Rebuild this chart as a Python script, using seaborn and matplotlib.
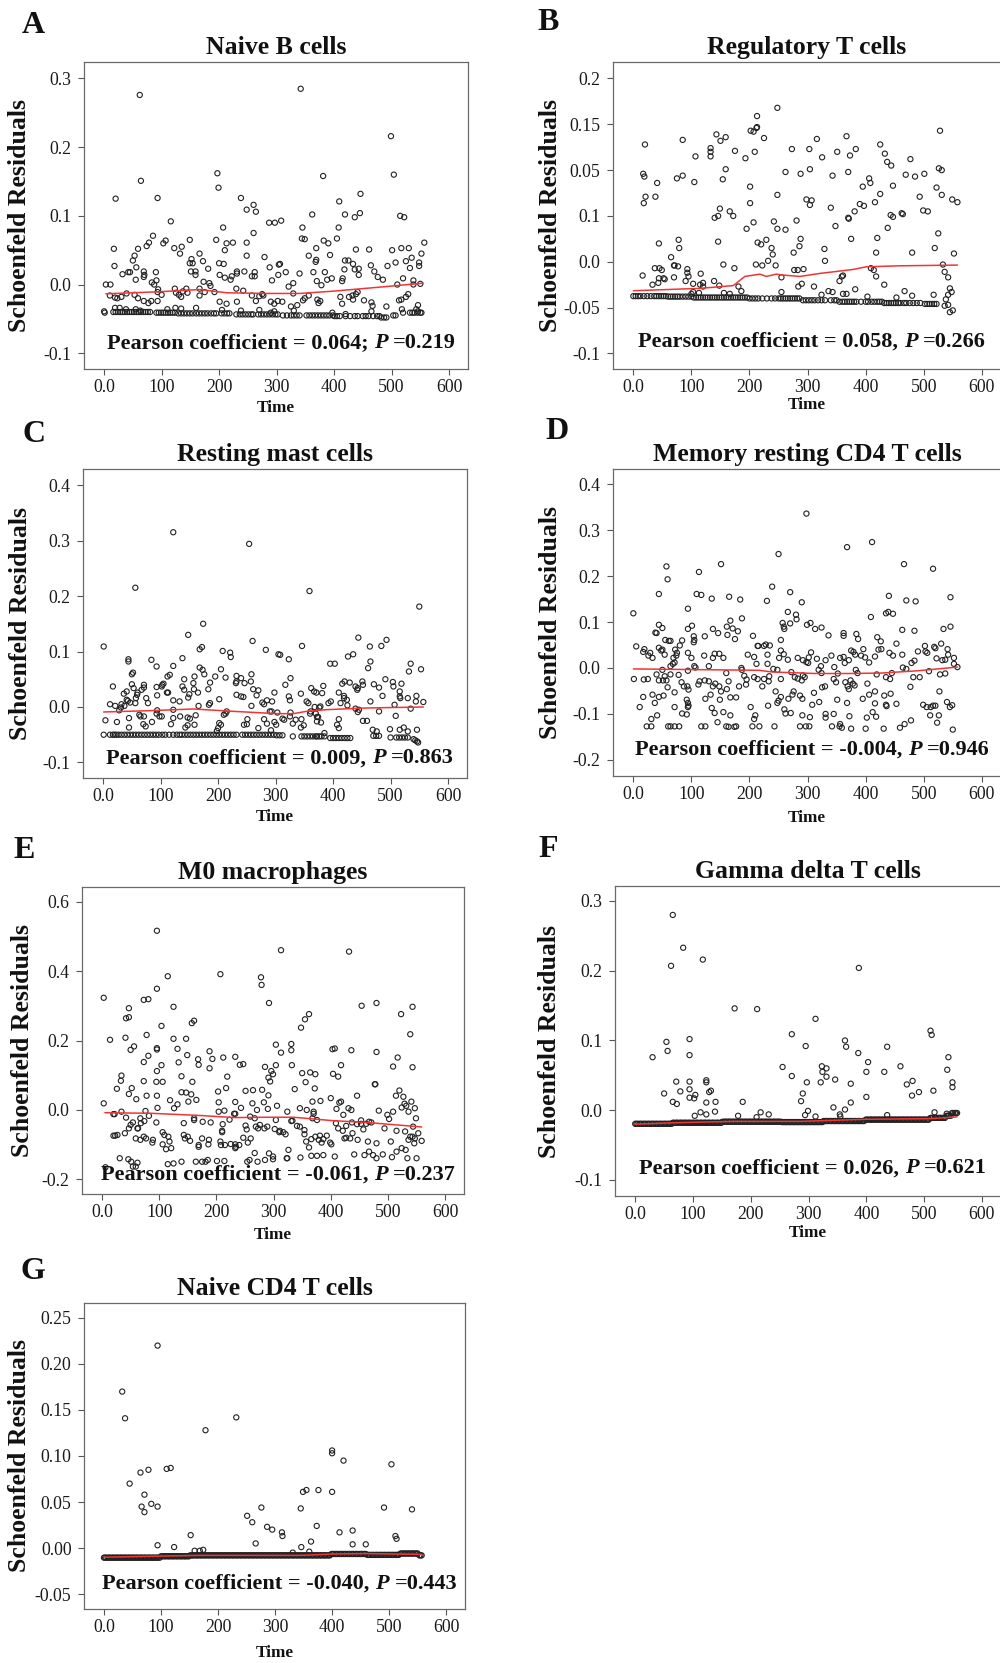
import matplotlib
matplotlib.use('Agg')
import matplotlib.pyplot as plt
from matplotlib.transforms import IdentityTransform
import seaborn as sns
import pandas as pd

# ---------------- data ----------------
panel_letters = ["A", "B", "C", "D", "E", "F", "G"]
panel_titles = ["Naive B cells", "Regulatory T cells", "Resting mast cells",
                "Memory resting CD4 T cells", "M0 macrophages",
                "Gamma delta T cells", "Naive CD4 T cells"]
pearson_coef = ["0.064;", "0.058,", "0.009,", "-0.004,", "-0.061,", "0.026,", "-0.040,"]
pearson_p = ["0.219", "0.266", "0.863", "0.946", "0.237", "0.621", "0.443"]

x_ticks = [0, 100, 200, 300, 400, 500, 600]
x_ticklabels = ["0.0", "100", "200", "300", "400", "500", "600"]

A_yticks = [-0.1, 0.0, 0.1, 0.2, 0.3]
A_yticklabels = ["-0.1", "0.0", "0.1", "0.2", "0.3"]
B_yticks = [-0.1, -0.05, 0.0, 0.05, 0.1, 0.15, 0.2]
B_yticklabels = ["-0.1", "-0.05", "0.0", "0.1", "0.05", "0.15", "0.2"]
C_yticks = [-0.1, 0.0, 0.1, 0.2, 0.3, 0.4]
C_yticklabels = ["-0.1", "0.0", "0.1", "0.2", "0.3", "0.4"]
D_yticks = [-0.2, -0.1, 0.0, 0.1, 0.2, 0.3, 0.4]
D_yticklabels = ["-0.2", "-0.1", "0.0", "0.1", "0.2", "0.3", "0.4"]
E_yticks = [-0.2, 0.0, 0.2, 0.4, 0.6]
E_yticklabels = ["-0.2", "0.0", "0.2", "0.4", "0.6"]
F_yticks = [-0.1, 0.0, 0.1, 0.2, 0.3]
F_yticklabels = ["-0.1", "0.0", "0.1", "0.2", "0.3"]
G_yticks = [-0.05, 0.0, 0.05, 0.10, 0.15, 0.20, 0.25]
G_yticklabels = ["-0.05", "0.00", "0.05", "0.10", "0.15", "0.20", "0.25"]

# (time, residual) points
A_points = [(62,0.276),(64,0.151),(20,0.125),(93,0.126),(197,0.162),(199,0.141),(342,0.285),(381,0.158),(499,0.216),(504,0.160),
(238,0.126),(260,0.116),(264,0.106),(248,0.109),(409,0.121),(446,0.132),(362,0.102),(419,0.102),(436,0.098),(445,0.104),(515,0.100),
(522,0.098),(116,0.092),(287,0.090),(297,0.090),(308,0.093),(207,0.083),(345,0.083),(408,0.083),(85,0.071),(260,0.075),(78,0.061),
(74,0.056),(17,0.052),(59,0.052),(103,0.060),(107,0.064),(149,0.065),(122,0.053),(135,0.055),(132,0.045),(195,0.065),(213,0.060),
(224,0.061),(210,0.050),(248,0.061),(248,0.042),(344,0.067),(349,0.066),(369,0.053),(382,0.064),(390,0.060),(405,0.067),(438,0.051),
(461,0.051),(501,0.050),(517,0.053),(530,0.053),(557,0.061),(552,0.045),(279,0.040),(356,0.042),(393,0.043),(50,0.035),(53,0.042),
(18,0.027),(32,0.015),(42,0.018),(45,0.018),(56,0.025),(55,0.007),(69,0.019),(70,0.014),(69,0.011),(90,0.018),(91,0.006),(83,0.003),
(87,0.0),(149,0.031),(152,0.037),(154,0.031),(151,0.019),(159,0.019),(159,0.014),(166,0.045),(172,0.034),(181,0.023),(173,0.004),
(183,0.002),(185,-0.002),(201,0.014),(200,0.031),(208,0.030),(210,0.010),(220,0.007),(222,0.012),(231,0.019),(231,0.016),(244,0.019),
(257,0.012),(262,0.018),(262,0.012),(288,0.025),(304,0.029),(306,0.030),(303,0.014),(292,0.006),(316,0.018),(329,0.002),(340,0.016),
(364,0.018),(368,0.033),(369,0.036),(370,0.005),(378,-0.001),(384,0.018),(388,0.007),(396,0.009),(419,0.035),(425,0.035),(433,0.030),
(418,0.022),(415,0.009),(414,0.005),(436,0.022),(443,0.023),(443,0.014),(464,0.028),(470,0.019),(476,0.011),(485,0.007),(493,0.027),
(507,0.032),(510,0.0),(520,0.009),(525,0.034),(535,0.039),(532,0.024),(548,0.027),(548,0.032),(538,0.006),(550,0.001),(538,0.0),
(3,0.0),(11,0.0),(10,-0.016),(19,-0.019),(23,-0.020),(39,-0.013),(30,-0.018),(53,-0.015),(59,-0.020),(69,-0.024),(77,-0.027),
(82,-0.024),(93,-0.011),(94,-0.007),(93,-0.024),(100,-0.015),(123,-0.006),(125,-0.012),(130,-0.015),(134,-0.018),(137,-0.010),
(143,-0.006),(145,-0.012),(166,-0.006),(166,-0.016),(175,-0.011),(192,-0.011),(201,-0.025),(213,-0.028),(230,-0.006),(242,-0.009),
(231,-0.025),(257,-0.016),(264,-0.024),(275,-0.014),(277,-0.016),(270,-0.017),(290,-0.025),(296,-0.028),(302,-0.024),(310,-0.025),
(321,-0.003),(329,-0.013),(336,-0.030),(325,-0.032),(346,-0.023),(349,-0.020),(356,-0.016),(371,-0.022),(373,-0.027),(376,-0.024),
(411,-0.018),(414,-0.028),(426,-0.018),(432,-0.016),(433,-0.022),(438,-0.014),(441,-0.011),(452,-0.023),(465,-0.026),(467,-0.031),
(491,-0.032),(513,-0.023),(517,-0.022),(525,-0.018),(529,-0.014),(518,-0.036),(546,-0.030),(543,-0.036),
(19,-0.034),(27,-0.034),(38,-0.036),(55,-0.036),(63,-0.038),(110,-0.036),(124,-0.034),(134,-0.035),(160,-0.034),(205,-0.037),
(238,-0.038),(270,-0.037),(290,-0.041),(296,-0.039),(330,-0.038),(397,-0.041),(420,-0.043),(465,-0.039),(520,-0.041),(546,-0.039),
(0,-0.039),(1,-0.041)]
A_band_levels = [-0.040, -0.041, -0.042, -0.0435, -0.045, -0.046, -0.048, -0.041]
A_band_times = [[16,20,24,28,32,36,40,44,48,52,56,60,64,68,72,76,80],
                [91,95,99,103,107,111,115,119,123],
                [129,134,139,144,149,154,160,165,170,175,180,186,191,195,204,209,214,218],
                [230,236,241,246,251,256,259,268,273,278,283,288,293,298,302],
                [311,318,325,330,335,340,352,357,362,367,372,377,382,387,392,398,503,507],
                [401,405,410,420,428,436,441,450,455,460,468,475,479],
                [482,487,491],
                [532,536,540,545,550,552]]
A_fit_time = [3, 94, 166, 213, 282, 340, 398, 485, 555]
A_fit_resid = [-0.0135, -0.0106, -0.0073, -0.012, -0.013, -0.013, -0.0097, -0.0034, 0.002]

B_points = [(248,0.168),(213,0.159),(213,0.147),(212,0.146),(202,0.143),(207,0.142),(528,0.143),(143,0.139),(159,0.136),(150,0.132),
(225,0.135),(367,0.137),(316,0.134),(85,0.133),(20,0.128),(425,0.128),(133,0.124),(133,0.120),(133,0.115),(273,0.123),(303,0.123),
(175,0.121),(209,0.120),(383,0.123),(351,0.120),(433,0.118),(373,0.116),(107,0.115),(193,0.113),(325,0.114),(477,0.112),(437,0.109),
(444,0.105),(159,0.101),(262,0.098),(288,0.096),(304,0.101),(370,0.098),(469,0.095),(485,0.093),(501,0.096),(526,0.102),(531,0.100),
(17,0.096),(19,0.093),(85,0.094),(75,0.091),(41,0.086),(105,0.087),(154,0.090),(343,0.094),(406,0.091),(408,0.086),(201,0.082),
(395,0.082),(447,0.083),(522,0.081),(248,0.073),(425,0.074),(531,0.073),(21,0.071),(38,0.071),(18,0.064),(201,0.064),(298,0.068),
(307,0.067),(304,0.062),(493,0.071),(549,0.068),(558,0.065),(416,0.065),(390,0.063),(397,0.061),(149,0.058),(146,0.050),(140,0.048),
(166,0.055),(172,0.050),(340,0.059),(381,0.055),(499,0.056),(507,0.055),(443,0.051),(447,0.049),(462,0.053),(464,0.052),(281,0.045),
(207,0.043),(242,0.044),(370,0.048),(371,0.047),(348,0.039),(195,0.036),(248,0.036),(262,0.035),(438,0.037),(288,0.025),(286,0.017),
(229,0.024),(214,0.021),(220,0.019),(146,0.022),(375,0.025),(420,0.026),(525,0.031),(78,0.024),(79,0.015),(44,0.020),(238,0.015),
(240,0.008),(329,0.014),(519,0.015),(276,0.010),(418,0.010),(480,0.010),(552,0.009),(65,0.005),(330,0.001),(232,0.001),(211,-0.003),
(222,-0.004),(245,-0.004),(155,-0.003),(533,-0.003),(70,-0.004),(71,-0.004),(77,-0.005),(37,-0.007),(45,-0.007),(49,-0.009),
(93,-0.008),(93,-0.012),(95,-0.016),(174,-0.007),(277,-0.009),(283,-0.009),(293,-0.008),(409,-0.007),(414,-0.009),(418,-0.016),
(536,-0.011),(16,-0.015),(70,-0.017),(52,-0.018),(44,-0.018),(43,-0.023),(54,-0.019),(116,-0.013),(139,-0.021),(255,-0.017),
(361,-0.015),(359,-0.016),(355,-0.021),(542,-0.017),(33,-0.025),(90,-0.021),(103,-0.024),(115,-0.025),(120,-0.027),(120,-0.023),
(148,-0.026),(181,-0.027),(186,-0.032),(284,-0.027),(290,-0.024),(311,-0.027),(432,-0.025),(545,-0.029),(548,-0.033),(542,-0.036),
(538,-0.041),(542,-0.047),(100,-0.035),(103,-0.033),(113,-0.034),(156,-0.034),(166,-0.035),(255,-0.033),(324,-0.036),(336,-0.032),
(343,-0.033),(361,-0.035),(367,-0.035),(382,-0.030),(403,-0.038),(453,-0.039),(467,-0.032),(480,-0.037),(517,-0.036),(536,-0.048),
(545,-0.055),(550,-0.053)]
B_band_levels = [-0.0375, -0.038, -0.039, -0.040, -0.042, -0.0436, -0.045, -0.046]
B_band_times = [[0,4,8,12,18,24,30,36,40,44,48,52,56],
                [60,64,68,72,76,80,85,90,95,100],
                [104,108,112,116,120,124,128,132,136,140,144,148,152,156,160,164,168,172,176,180,184,188,192,196],
                [200,205,210,215,222,230,238,244,250,254,258,262,266,270,274,278,282,286],
                [292,297,302,307,312,318,324,330,340,346,350],
                [355,360,364,368,372,376,380,384,392,400,404,410,415,420,424,428],
                [432,436,440,444,448,452,456,460,466,470,476,482,488,494],
                [502,506,510,514,518,522]]
B_fit_time = [0, 115, 172, 192, 218, 229, 246, 258, 287, 321, 344, 378, 401, 458, 558]
B_fit_resid = [-0.0316, -0.029, -0.026, -0.016, -0.0135, -0.016, -0.0135, -0.0145, -0.016, -0.0127, -0.011, -0.0084, -0.0055, -0.0044, -0.0036]

C_points = [(122,0.315),(254,0.294),(56,0.215),(359,0.209),(550,0.181),(174,0.150),(148,0.130),(444,0.125),(493,0.121),(260,0.119),
(1,0.109),(346,0.110),(464,0.109),(484,0.110),(172,0.108),(168,0.104),(283,0.103),(208,0.101),(221,0.098),(222,0.090),(305,0.095),
(308,0.094),(435,0.095),(426,0.091),(323,0.086),(138,0.088),(44,0.086),(44,0.082),(84,0.085),(465,0.082),(535,0.078),(395,0.078),
(403,0.078),(122,0.074),(93,0.073),(461,0.070),(168,0.071),(173,0.067),(176,0.059),(205,0.068),(553,0.068),(532,0.064),(52,0.062),
(50,0.059),(258,0.059),(116,0.058),(112,0.055),(159,0.055),(213,0.053),(326,0.052),(141,0.050),(232,0.056),(232,0.046),(231,0.043),
(240,0.052),(195,0.055),(491,0.050),(451,0.046),(420,0.046),(429,0.044),(257,0.046),(186,0.044),(157,0.043),(246,0.043),(504,0.045),
(505,0.037),(519,0.042),(416,0.042),(105,0.042),(103,0.040),(102,0.037),(50,0.041),(71,0.040),(71,0.035),(67,0.031),(17,0.037),
(93,0.036),(138,0.037),(141,0.031),(53,0.034),(261,0.032),(270,0.030),(183,0.032),(158,0.032),(439,0.037),(443,0.034),(442,0.031),
(471,0.041),(480,0.035),(383,0.038),(362,0.034),(367,0.028),(371,0.026),(381,0.025),(516,0.028),(452,0.040),(317,0.040),(298,0.026),
(41,0.028),(36,0.024),(60,0.026),(59,0.022),(113,0.026),(111,0.026),(150,0.023),(165,0.026),(75,0.016),(94,0.021),(148,0.017),
(232,0.022),(240,0.019),(244,0.018),(267,0.021),(344,0.024),(323,0.019),(410,0.026),(419,0.020),(419,0.016),(486,0.020),(516,0.019),
(517,0.016),(530,0.016),(545,0.020),(41,0.013),(43,0.011),(47,0.008),(57,0.016),(56,0.007),(78,0.007),(122,0.012),(133,0.010),
(186,0.007),(184,0.004),(202,0.014),(277,0.008),(280,0.005),(285,0.012),(294,0.010),(325,0.012),(354,0.010),(357,0.007),(392,0.007),
(396,0.010),(413,0.007),(424,0.013),(465,0.010),(507,0.004),(544,0.010),(557,0.009),(535,-0.003),(258,0.002),(12,0.005),(21,0.002),
(28,-0.006),(31,-0.001),(37,0.002),(32,0.005),(94,-0.006),(93,-0.012),(122,-0.005),(98,-0.017),(102,-0.017),(166,0.002),(215,-0.008),
(210,-0.014),(213,-0.012),(290,-0.008),(293,-0.008),(303,-0.010),(312,-0.021),(326,-0.010),(325,-0.017),(368,0.0),(376,-0.001),
(378,0.001),(361,-0.008),(360,-0.012),(370,-0.012),(372,-0.018),(425,0.003),(439,-0.003),(443,-0.009),(445,-0.005),(480,-0.008),
(509,-0.016),(4,-0.024),(24,-0.027),(45,-0.020),(63,-0.014),(65,-0.017),(71,-0.017),(70,-0.031),(74,-0.035),(45,-0.037),(85,-0.027),
(118,-0.031),(122,-0.020),(134,-0.017),(147,-0.019),(151,-0.021),(161,-0.015),(159,-0.032),(147,-0.033),(143,-0.037),(202,-0.029),
(205,-0.032),(200,-0.038),(198,-0.043),(245,-0.032),(250,-0.031),(251,-0.022),(270,-0.038),(280,-0.022),(285,-0.030),(298,-0.027),
(301,-0.032),(292,-0.042),(315,-0.023),(330,-0.030),(335,-0.023),(345,-0.022),(344,-0.037),(349,-0.033),(372,-0.026),(374,-0.018),
(379,-0.028),(410,-0.022),(407,-0.032),(410,-0.038),(452,-0.025),(459,-0.025),(469,-0.041),(476,-0.044),(499,-0.040),(516,-0.041),
(523,-0.037),(530,-0.044),(546,-0.041),(385,-0.047),(370,-0.053)]
C_band_levels = [-0.050, -0.051, -0.053, -0.056, -0.052, -0.055, -0.058, -0.060, -0.062, -0.064]
C_band_times = [[1,12,17,20,23,27,32,37,42,47,52,57,62,67,72,77,82,87,92,97,103,108,115,122,128,133,137,142,147,152,157,162,
                 167,172,177,182,187,192,197,202,207,212,217,222,227,232,242,247,252,257,262,267,272,277,282,287,292,297],
                [302,307,312],
                [330,345,350,355,360,365,372,376,380,385],
                [395,400,405,410,415,420,425,430],
                [470,475,480],
                [500,510,515,520,525,530],
                [540], [543], [546], [548]]
C_fit_time = [1, 82, 157, 226, 302, 331, 354, 389, 458, 557]
C_fit_resid = [-0.009, -0.0066, -0.0036, -0.0078, -0.012, -0.012, -0.0078, -0.0048, -0.0018, 0.0]

D_points = [(298,0.336),(411,0.274),(368,0.263),(250,0.248),(57,0.221),(151,0.226),(466,0.226),(516,0.216),(59,0.193),(113,0.209),
(239,0.177),(44,0.161),(109,0.161),(117,0.159),(270,0.165),(440,0.157),(546,0.154),(135,0.151),(165,0.155),(184,0.149),(230,0.146),
(290,0.143),(470,0.147),(486,0.145),(94,0.129),(0,0.119),(266,0.122),(280,0.116),(435,0.119),(439,0.122),(447,0.118),(281,0.106),
(187,0.108),(409,0.111),(305,0.098),(299,0.094),(257,0.098),(259,0.090),(260,0.085),(270,0.097),(167,0.103),(44,0.094),(50,0.087),
(101,0.092),(137,0.085),(94,0.085),(161,0.090),(171,0.086),(180,0.080),(175,0.063),(324,0.088),(313,0.085),(534,0.085),(546,0.090),
(463,0.083),(484,0.081),(38,0.077),(40,0.076),(146,0.076),(162,0.072),(123,0.069),(206,0.070),(336,0.071),(362,0.076),(362,0.070),
(384,0.074),(387,0.063),(420,0.067),(426,0.058),(55,0.061),(61,0.059),(64,0.059),(104,0.069),(105,0.061),(104,0.056),(84,0.060),
(254,0.061),(453,0.053),(530,0.053),(502,0.048),(518,0.046),(520,0.043),(214,0.048),(215,0.048),(225,0.048),(228,0.051),(235,0.049),
(80,0.049),(5,0.047),(44,0.044),(48,0.038),(50,0.040),(72,0.040),(17,0.035),(19,0.041),(26,0.027),(29,0.033),(33,0.022),(54,0.029),
(69,0.022),(74,0.027),(75,0.033),(64,0.004),(68,0.009),(71,0.012),(94,0.033),(100,0.022),(105,0.004),(122,0.027),(137,0.022),
(140,0.031),(148,0.031),(155,0.022),(130,0.004),(107,0.001),(197,0.029),(208,0.024),(212,0.009),(231,0.029),(231,0.009),(254,0.038),
(259,0.030),(251,0.022),(266,0.018),(283,0.022),(292,0.017),(298,0.013),(301,0.011),(306,0.034),(302,0.023),(316,0.020),(323,0.004),
(331,0.017),(341,0.027),(346,0.002),(356,0.022),(362,0.024),(364,0.011),(371,0.017),(375,0.038),(379,0.035),(382,0.029),(392,0.027),
(396,0.041),(399,0.023),(406,0.012),(416,0.025),(422,0.040),(427,0.041),(441,0.033),(447,0.027),(463,0.029),(464,0.001),(470,-0.002),
(479,0.011),(484,0.016),(490,0.036),(503,0.036),(506,0.033),(522,0.021),(532,0.017),(537,0.018),(541,0.041),(542,0.029),(552,0.022),
(552,0.009),(558,0.002),(1,-0.024),(18,-0.025),(25,-0.024),(17,-0.063),(11,-0.085),(37,-0.076),(33,-0.058),(40,-0.014),(44,-0.027),
(50,-0.004),(51,-0.027),(54,-0.018),(57,-0.027),(59,-0.042),(44,-0.063),(52,-0.060),(41,-0.103),(31,-0.111),(23,-0.127),(31,-0.127),
(60,-0.127),(64,-0.127),(71,-0.127),(79,-0.127),(64,-0.014),(71,-0.053),(71,-0.085),(78,-0.015),(83,-0.031),(84,-0.099),(87,-0.040),
(92,-0.101),(92,-0.069),(94,-0.076),(94,-0.085),(95,-0.082),(93,-0.040),(94,-0.006),(95,-0.047),(114,-0.029),(112,-0.036),(123,-0.027),
(124,-0.067),(117,-0.127),(124,-0.127),(130,-0.029),(133,-0.058),(135,-0.087),(137,-0.040),(140,-0.098),(141,-0.034),(145,-0.118),
(148,-0.040),(149,-0.069),(151,-0.051),(155,-0.096),(160,-0.011),(161,-0.046),(164,-0.029),(167,-0.064),(167,-0.103),(160,-0.127),
(164,-0.128),(174,-0.128),(177,-0.127),(177,-0.064),(182,-0.040),(186,0.0),(187,-0.004),(191,-0.017),(194,-0.036),(195,-0.025),
(202,-0.085),(208,-0.111),(210,-0.103),(205,-0.127),(217,-0.127),(208,-0.020),(214,-0.024),(222,-0.040),(225,-0.024),(232,-0.082),
(233,-0.029),(234,-0.018),(241,-0.002),(243,-0.127),(245,-0.051),(248,-0.004),(248,-0.076),(250,-0.071),(254,-0.063),(254,-0.024),
(260,-0.090),(262,-0.099),(267,-0.067),(271,-0.098),(272,-0.009),(274,-0.058),(276,-0.051),(278,-0.020),(283,-0.023),(287,-0.060),
(287,-0.127),(290,-0.027),(291,-0.067),(291,-0.103),(292,-0.016),(295,-0.020),(297,-0.127),(303,-0.127),(304,-0.107),(308,-0.080),
(311,-0.054),(319,-0.004),(320,-0.074),(324,-0.011),(325,-0.042),(330,-0.040),(331,-0.100),(331,-0.108),(342,-0.127),(345,-0.100),
(345,-0.024),(349,-0.031),(351,-0.069),(352,-0.012),(355,-0.127),(356,-0.122),(359,-0.130),(365,-0.031),(368,-0.076),(369,-0.040),
(371,-0.046),(374,-0.027),(372,-0.105),(375,-0.132),(378,-0.034),(381,-0.038),(383,-0.004),(386,-0.011),(395,-0.067),(400,-0.132),
(403,-0.034),(402,-0.108),(406,-0.058),(412,-0.096),(416,-0.051),(416,-0.077),(418,-0.106),(419,-0.014),(431,-0.132),(432,-0.060),
(435,-0.020),(435,-0.080),(436,-0.083),(442,-0.024),(443,-0.056),(445,-0.011),(453,-0.078),(459,-0.130),(467,-0.122),(477,-0.041),
(478,-0.114),(482,-0.020),(493,-0.020),(499,-0.080),(505,-0.085),(509,-0.007),(512,-0.085),(511,-0.103),(516,-0.082),(520,-0.082),
(523,-0.119),(526,-0.103),(527,-0.051),(528,-0.014),(537,-0.012),(540,-0.074),(545,-0.085),(549,-0.081),(550,-0.134)]
D_fit_time = [0, 114, 217, 239, 314, 371, 428, 490, 558]
D_fit_resid = [-0.002, -0.0036, -0.005, -0.0087, -0.012, -0.012, -0.011, -0.006, 0.002]

E_points = [(96,0.516),(313,0.460),(432,0.456),(207,0.391),(115,0.385),(278,0.382),(279,0.360),(96,0.349),(3,0.323),(73,0.317),
(81,0.319),(292,0.308),(480,0.308),(125,0.297),(454,0.300),(543,0.297),(47,0.293),(362,0.276),(523,0.276),(42,0.264),(47,0.267),
(161,0.257),(157,0.250),(355,0.261),(104,0.242),(348,0.237),(539,0.218),(78,0.216),(41,0.208),(147,0.205),(125,0.205),(14,0.202),
(50,0.173),(56,0.183),(96,0.178),(96,0.174),(132,0.176),(403,0.175),(407,0.177),(436,0.172),(304,0.188),(331,0.190),(331,0.172),
(313,0.165),(480,0.167),(188,0.169),(81,0.156),(149,0.158),(212,0.151),(233,0.153),(168,0.146),(193,0.147),(517,0.151),(73,0.138),
(134,0.137),(247,0.132),(241,0.130),(169,0.130),(104,0.129),(188,0.120),(332,0.129),(304,0.129),(285,0.124),(418,0.129),(509,0.125),
(543,0.123),(96,0.112),(296,0.112),(350,0.106),(364,0.108),(373,0.103),(404,0.104),(413,0.096),(299,0.103),(219,0.096),(139,0.097),
(34,0.099),(33,0.084),(291,0.093),(294,0.082),(73,0.083),(95,0.081),(106,0.081),(158,0.081),(356,0.080),(477,0.074),(478,0.074),
(26,0.061),(52,0.063),(217,0.063),(337,0.060),(372,0.062),(139,0.051),(147,0.050),(156,0.045),(47,0.046),(78,0.041),(203,0.053),
(251,0.055),(264,0.057),(280,0.058),(291,0.042),(446,0.041),(520,0.056),(514,0.041),(527,0.038),(96,0.041),(60,0.031),(119,0.028),
(165,0.029),(151,0.024),(204,0.022),(233,0.023),(263,0.019),(283,0.022),(368,0.024),(382,0.026),(400,0.034),(415,0.021),(418,0.024),
(529,0.018),(541,0.024),(306,0.012),(3,0.019),(126,0.005),(132,0.016),(97,0.006),(243,0.006),(271,0.0),(290,0.003),(346,0.005),
(358,0.0),(410,0.003),(431,0.005),(436,0.0),(547,0.005),(484,-0.002),(524,0.007),(532,0.012),(214,-0.002),(204,-0.005),(231,-0.011),
(324,-0.005),(370,-0.005),(370,-0.011),(422,-0.014),(509,-0.005),(536,-0.005),(499,-0.014),(502,-0.026),(549,-0.024),(34,-0.005),
(20,-0.012),(22,-0.012),(42,-0.022),(67,-0.024),(76,-0.003),(82,-0.017),(95,-0.036),(161,-0.024),(161,-0.029),(176,-0.034),
(211,-0.041),(190,-0.036),(223,-0.028),(233,-0.011),(259,-0.019),(267,-0.024),(269,-0.048),(273,-0.053),(284,-0.053),(304,-0.029),
(311,-0.060),(317,-0.064),(331,-0.032),(333,-0.031),(341,-0.046),(346,-0.048),(368,-0.024),(376,-0.029),(409,-0.038),(413,-0.053),
(421,-0.060),(427,-0.046),(437,-0.036),(446,-0.041),(453,-0.040),(453,-0.030),(462,-0.040),(467,-0.034),(471,-0.036),(457,-0.056),
(494,-0.053),(515,-0.060),(544,-0.048),(553,-0.067),(559,-0.089),(547,-0.082),(543,-0.077),(539,-0.077),(530,-0.062),(47,-0.053),
(54,-0.036),(62,-0.053),(63,-0.053),(68,-0.038),(74,-0.032),(23,-0.074),(20,-0.074),(27,-0.072),(40,-0.067),(50,-0.043),(59,-0.082),
(67,-0.086),(73,-0.077),(77,-0.082),(89,-0.086),(88,-0.094),(106,-0.064),(109,-0.072),(116,-0.077),(118,-0.091),(106,-0.099),
(112,-0.113),(121,-0.110),(143,-0.038),(143,-0.072),(150,-0.077),(154,-0.089),(145,-0.082),(169,-0.101),(169,-0.106),(175,-0.082),
(187,-0.086),(186,-0.099),(207,-0.091),(210,-0.060),(210,-0.064),(208,-0.101),(215,-0.101),(225,-0.098),(233,-0.099),(233,-0.110),
(234,-0.106),(240,-0.101),(247,-0.080),(251,-0.045),(253,-0.056),(255,-0.094),(260,-0.082),(267,-0.124),(276,-0.043),(289,-0.048),
(292,-0.125),(299,-0.134),(302,-0.055),(310,-0.064),(321,-0.070),(326,-0.115),(354,-0.058),(357,-0.091),(354,-0.070),(362,-0.108),
(366,-0.084),(373,-0.077),(379,-0.086),(381,-0.074),(384,-0.094),(387,-0.084),(393,-0.074),(399,-0.094),(401,-0.099),(424,-0.082),
(427,-0.080),(434,-0.082),(438,-0.067),(441,-0.128),(447,-0.086),(459,-0.130),(465,-0.091),(467,-0.120),(474,-0.130),(480,-0.096),
(491,-0.128),(505,-0.091),(515,-0.120),(524,-0.110),(531,-0.115),(536,-0.086),(546,-0.096),
(6,-0.165),(31,-0.139),(51,-0.149),(54,-0.163),(59,-0.163),(62,-0.152),(46,-0.142),(115,-0.156),(125,-0.154),(139,-0.149),(164,-0.149),
(175,-0.149),(181,-0.149),(185,-0.144),(201,-0.147),(214,-0.147),(254,-0.149),(258,-0.144),(272,-0.149),(285,-0.144),(299,-0.142),
(323,-0.139),(347,-0.137),(366,-0.132),(376,-0.132),(387,-0.130),(407,-0.134),(480,-0.139),(507,-0.136),(550,-0.139),(534,-0.139),
(324,-0.139)]
E_fit_time = [5, 86, 173, 231, 289, 335, 405, 463, 559]
E_fit_resid = [-0.008, -0.0096, -0.016, -0.022, -0.021, -0.021, -0.031, -0.036, -0.049]

F_points = [(65,0.280),(83,0.233),(117,0.216),(62,0.207),(387,0.204),(172,0.146),(211,0.145),(312,0.131),(511,0.114),(513,0.108),
(271,0.109),(94,0.102),(54,0.098),(56,0.085),(363,0.100),(365,0.091),(295,0.092),(436,0.091),(94,0.079),(386,0.082),(30,0.076),
(542,0.076),(403,0.069),(459,0.063),(255,0.062),(323,0.063),(324,0.055),(331,0.060),(540,0.058),(400,0.055),(431,0.055),(271,0.049),
(331,0.048),(123,0.043),(123,0.040),(71,0.041),(94,0.041),(297,0.040),(321,0.040),(346,0.044),(373,0.038),(480,0.042),(470,0.037),
(549,0.040),(549,0.033),(131,0.028),(128,0.026),(78,0.027),(94,0.030),(491,0.026),(516,0.028),(50,0.024),(290,0.024),(104,0.022),
(94,0.018),(102,0.017),(400,0.019),(479,0.021),(123,0.011),(139,0.012),(186,0.012),(65,0.012),(72,0.009),(287,0.013),(373,0.011),
(343,0.004),(363,0.001),(299,-0.001),(138,-0.002),(113,-0.003),(123,-0.006),(103,-0.008),(178,-0.008),(217,-0.003),(231,-0.006),
(210,-0.010),(312,-0.009),(294,-0.007),(354,-0.006),(355,-0.009),(436,-0.007),(518,-0.003),(539,-0.005)]
F_band_levels = [-0.0195, -0.018, -0.0165, -0.017, -0.0155, -0.0135, -0.011, -0.008, -0.004]
F_band_times = [[0,2,4,7,9,11,14,16,18,21,23,25,28,30,32,35,37,39,42,44,46,49,51,53,56,58,60,63],
                [65,67,70,72,74,77,79,81,84,86,88,91,93,95,98,100,102,105,107,109,112,114,116,119,121,123,126,128,130,133,135,
                 137,140,142,144,147,149],
                [151,154,156,158,161,163,165,168,170,172,175,177,179,182,184,186,189,191,193,196,198,200,203,205,207,210,212,
                 214,217,219,221,224,226,228,231,233,235,238,240,242,245,247,249,252],
                [254,256,259,261,263,266,268,270,273,275,277,280,282,284,287,289,291,294,296,298,301,303,305,308,310,312,315,
                 317,319,322,324],
                [326,329,331,333,336,338,340,343,345,347,350,352,354,357,359,361,364,366,368,371,373,375,378,380,382,385,387,
                 389,392,394,396],
                [399,401,403,406,408,410,413,415,417,420,422,424,427,429,431,434,436,438,441,443,445,448,450,452,455,457,459,
                 462,464,466,469,471,473,476,478,480,483,485,487,490,492,494,497,499,501,504,506,508],
                [511,513,515,518,520,522,525,527,529,532,534,536],
                [539,541,543,546],
                [548,550,553,555,557]]
F_fit_time = [0, 67, 170, 285, 400, 514, 557]
F_fit_resid = [-0.020, -0.018, -0.016, -0.016, -0.013, -0.012, -0.0096]

G_points = [(94,0.220),(32,0.170),(37,0.141),(232,0.142),(178,0.128),(400,0.106),(400,0.103),(420,0.095),(504,0.091),(110,0.086),
(117,0.087),(64,0.082),(78,0.085),(45,0.070),(71,0.058),(355,0.063),(349,0.061),(376,0.063),(400,0.061),(83,0.048),(66,0.045),
(94,0.045),(71,0.039),(276,0.044),(345,0.043),(491,0.044),(540,0.042),(251,0.035),(260,0.028),(286,0.023),(295,0.020),(373,0.024),
(436,0.019),(312,0.017),(313,0.013),(413,0.017),(152,0.014),(511,0.013),(513,0.010),(363,0.007),(266,0.005),(436,0.004),(459,0.004),
(94,0.003),(123,0.001),(346,0.001),(159,-0.003),(168,-0.003),(174,-0.002),(360,-0.004),(331,-0.005)]
G_band_levels = [-0.0105, -0.009, -0.008, -0.0065, -0.0075, -0.006, -0.008]
G_band_times = [[0,2,4,7,9,11,14,16,18,21,23,25,28,30,32,35,37,39,42,44,46,49,51,53,56,58,60,63,65,67,70,72,74,77,79,81,
                 84,86,88,91,93,95,98],
                [100,102,105,107,109,112,114,116,119,121,123,126,128,130,133,135,137,140,142,144,147,149],
                [151,154,156,158,161,163,165,168,170,172,175,177,179,182,184,186,189,191,193,196,198,200,203,205,207,210,212,
                 214,217,219,221,224,226,228,231,233,235,238,240,242,245,247,249,252,254,256,259,261,263,266,268,270,273,275,
                 277,280,282,284,287,289,291,294,296,298,301,303,305,308,310,312,315,317,319,322,324,326,329,331,333,336,338,
                 340,343,345,347,350,352,354,357,359,361,364,366,368,371,373,375,378,380,382,385,387,389,392,394,396],
                [399,401,403,406,408,410,413,415,417,420,422,424,427,429,431,434,436,438,441,443,445,448,450,452,455,457,459],
                [462,464,466,469,471,473,476,478,480,483,485,487,490,492,494,497,499,501,504,506,508,511,513,515,517],
                [520,522,525,527,529,532,534,536,539,541,543,546,548,550],
                [553,555,557]]
G_fit_time = [0, 82, 169, 344, 403, 461, 557]
G_fit_resid = [-0.010, -0.009, -0.008, -0.008, -0.0065, -0.006, -0.007]

# ---------------- assemble ----------------
def band_pairs(levels, times):
    out = []
    for lv, ts in zip(levels, times):
        out += [(t, lv) for t in ts]
    return out

panel_points = [
    A_points + band_pairs(A_band_levels, A_band_times),
    B_points + band_pairs(B_band_levels, B_band_times),
    C_points + band_pairs(C_band_levels, C_band_times),
    D_points,
    E_points,
    F_points + band_pairs(F_band_levels, F_band_times),
    G_points + band_pairs(G_band_levels, G_band_times),
]
panel_fit = [(A_fit_time, A_fit_resid), (B_fit_time, B_fit_resid), (C_fit_time, C_fit_resid),
             (D_fit_time, D_fit_resid), (E_fit_time, E_fit_resid), (F_fit_time, F_fit_resid),
             (G_fit_time, G_fit_resid)]
panel_yticks = [(A_yticks, A_yticklabels), (B_yticks, B_yticklabels), (C_yticks, C_yticklabels),
                (D_yticks, D_yticklabels), (E_yticks, E_yticklabels), (F_yticks, F_yticklabels),
                (G_yticks, G_yticklabels)]

# ---------------- layout / style ----------------
sns.set_style("white")
plt.rcParams['font.family'] = ['Liberation Serif', 'DejaVu Serif']

W, H = 1000, 1663
fig = plt.figure(figsize=(W / 100, H / 100), dpi=100)

# axes boxes in pixels: left, top, right, bottom
boxes = [(84, 62, 468, 369), (613, 62, 1001, 369),
         (83, 469, 467, 778), (613, 469, 1001, 776),
         (82, 887, 464, 1194), (615, 886, 1001, 1196),
         (84, 1303, 465, 1609)]
ylims = [(-0.123, 0.324), (-0.117, 0.218), (-0.128, 0.429), (-0.235, 0.433),
         (-0.242, 0.642), (-0.123, 0.3215), (-0.0663, 0.2663)]
letter_pos = [(22, 33), (537, 30), (22, 442), (545, 439), (13, 858), (538, 857), (20, 1279)]
ylab_x = [-0.167, -0.162, -0.164, -0.162, -0.157, -0.169, -0.168]
time_off = [39, 36, 39, 42, 41, 37, 44]
pear_y = [0.085, 0.089, 0.064, 0.085, 0.062, 0.090, 0.083]
MS = 14

PFS = 16
renderer = fig.canvas.get_renderer()

def pearson_text(ax, coef, p, yfrac, xc=308):
    parts = [("Pearson coefficient = " + coef, 'normal'), ("P", 'italic'), ("=" + p, 'normal')]
    space = 0.25 * PFS * 100 / 72
    widths = []
    objs = []
    for s, st in parts:
        t = ax.text(0, 0, s, fontsize=PFS, fontweight='bold', fontstyle=st,
                    transform=IdentityTransform(), ha='left', va='center', color='#111111')
        widths.append(t.get_window_extent(renderer).width)
        objs.append(t)
    total = sum(widths) + 2 * space
    cx = ax.transData.transform((xc, 0))[0]
    cy = ax.transAxes.transform((0, yfrac))[1]
    x = cx - total / 2
    for t, w in zip(objs, widths):
        t.set_position((x, cy))
        x += w + space

for i in range(7):
    l, t, r, b = boxes[i]
    ax = fig.add_axes([l / W, 1 - b / H, (r - l) / W, (b - t) / H])
    df = pd.DataFrame(panel_points[i], columns=["time", "resid"])
    sns.scatterplot(data=df, x="time", y="resid", ax=ax, marker='o', s=MS,
                    facecolors='none', edgecolor='#222222', linewidth=0.8, zorder=2)
    fx, fy = panel_fit[i]
    fit_df = pd.DataFrame({"time": fx, "resid": fy})
    sns.lineplot(data=fit_df, x="time", y="resid", ax=ax, color='#f03535', linewidth=1.1,
                 sort=True, estimator=None, zorder=3)

    ax.set_xlim(-35, 633)
    ax.set_ylim(*ylims[i])
    ax.set_xticks(x_ticks)
    ax.set_xticklabels(x_ticklabels)
    yt, ytl = panel_yticks[i]
    ax.set_yticks(yt)
    ax.set_yticklabels(ytl)
    ax.set_xlabel("")
    ax.set_ylabel("")
    ax.tick_params(axis='both', which='both', direction='out', length=4.5, width=0.8,
                   color='#555555', labelsize=12.8, labelcolor='#1a1a1a',
                   bottom=True, left=True, top=False, right=False)
    ax.tick_params(axis='x', pad=3)
    ax.tick_params(axis='y', pad=4.5)
    for sp in ax.spines.values():
        sp.set_visible(True)
        sp.set_color('#6a6a6a')
        sp.set_linewidth(0.9)

    ax.set_title(panel_titles[i], fontsize=18.5, fontweight='bold', pad=6, color='#111111')
    ax.text(ylab_x[i], 0.5, "Schoenfeld Residuals", transform=ax.transAxes, rotation=90,
            ha='center', va='center', fontsize=18.5, fontweight='bold', color='#111111')
    ax.text(0.5, -time_off[i] / (b - t), "Time", transform=ax.transAxes, ha='center',
            va='center', fontsize=12.4, fontweight='bold', color='#111111')
    pearson_text(ax, pearson_coef[i], pearson_p[i], pear_y[i])

    lx, ly = letter_pos[i]
    fig.text(lx / W, 1 - ly / H, panel_letters[i], fontsize=23, fontweight='bold',
             ha='left', va='baseline', color='#111111')

fig.savefig("out.png", dpi=100)
